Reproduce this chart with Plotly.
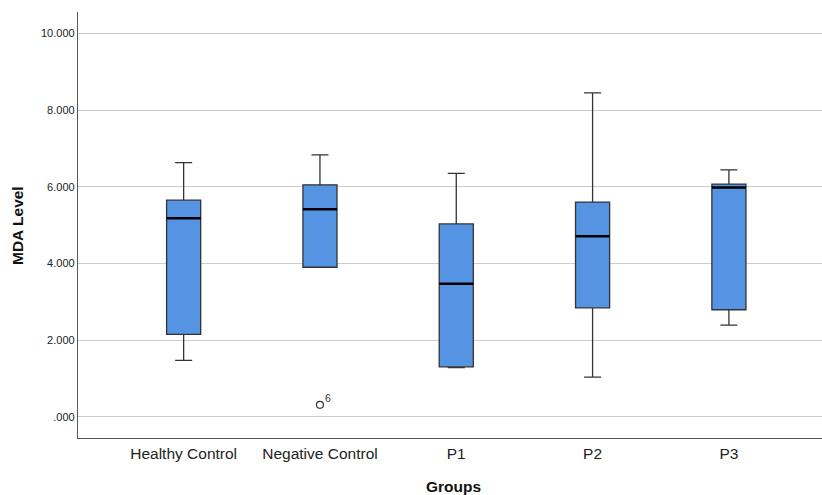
import plotly.graph_objects as go

categories = ["Healthy Control", "Negative Control", "P1", "P2", "P3"]
lower_whisker = [1.47, 3.90, 1.28, 1.03, 2.39]
q1_vals = [2.15, 3.90, 1.30, 2.84, 2.79]
median_vals = [5.18, 5.41, 3.47, 4.71, 5.98]
q3_vals = [5.65, 6.05, 5.03, 5.60, 6.07]
upper_whisker = [6.63, 6.83, 6.35, 8.45, 6.44]

outlier_group = ["Negative Control"]
outlier_vals = [0.31]
outlier_labels = ["6"]

y_tick_vals = [0, 2, 4, 6, 8, 10]
y_tick_text = [".000", "2.000", "4.000", "6.000", "8.000", "10.000"]

xs = list(range(len(categories)))
box_w = 0.25

fig = go.Figure()
fig.add_trace(go.Box(
    x=xs, q1=q1_vals, median=median_vals, q3=q3_vals,
    lowerfence=lower_whisker, upperfence=upper_whisker,
    width=box_w, whiskerwidth=0.5,
    fillcolor="#5494E3", line=dict(color="#333333", width=1.3),
    boxpoints=False, showlegend=False, hoverinfo="skip",
))
# thick median lines
for i, m in zip(xs, median_vals):
    fig.add_trace(go.Scatter(
        x=[i - box_w / 2, i + box_w / 2], y=[m, m], mode="lines",
        line=dict(color="#000000", width=2.5), showlegend=False, hoverinfo="skip",
    ))
# outliers
ox = [categories.index(g) for g in outlier_group]
fig.add_trace(go.Scatter(
    x=ox, y=outlier_vals, mode="markers",
    marker=dict(symbol="circle-open", size=7, color="#333333", line=dict(width=1.2)),
    showlegend=False, hoverinfo="skip",
))

annotations = [
    dict(text=lab, x=xv, y=yv, xref="x", yref="y", xshift=8, yshift=7,
         showarrow=False, font=dict(size=10.5, color="#333333"))
    for xv, yv, lab in zip(ox, outlier_vals, outlier_labels)
]
annotations += [
    dict(text="<b>Groups</b>", xref="paper", yref="paper", x=0.505, y=-0.114,
         xanchor="center", yanchor="middle", showarrow=False,
         font=dict(size=15.5, color="#111111")),
    dict(text="<b>MDA Level</b>", xref="paper", yref="paper", x=-0.082, y=0.5,
         xanchor="center", yanchor="middle", textangle=-90, showarrow=False,
         font=dict(size=15.5, color="#111111")),
]

fig.update_layout(
    width=822, height=495,
    margin=dict(l=78, r=0, t=12, b=57),
    paper_bgcolor="white", plot_bgcolor="white",
    font=dict(family="Arial, Liberation Sans", color="#222222"),
    xaxis=dict(
        range=[-0.775, 4.683], tickvals=xs, ticktext=categories,
        showgrid=False, zeroline=False, showline=True, linecolor="#555555", linewidth=1.3,
        ticks="", tickfont=dict(size=15.5, color="#222222"), automargin=False,
        ticklabelstandoff=1,
    ),
    yaxis=dict(
        range=[-0.556, 10.56], tickvals=y_tick_vals, ticktext=y_tick_text,
        showgrid=True, gridcolor="#CCCCCC", gridwidth=1.3, zeroline=False,
        showline=True, linecolor="#555555", linewidth=1.3, ticks="",
        tickfont=dict(size=11, color="#222222"), automargin=False,
    ),
    annotations=annotations,
)

fig.write_html(
    "out.html",
    config={"displayModeBar": False},
    post_script=(
        "document.body.style.margin='0';document.body.style.overflow='hidden';"
        "document.documentElement.style.overflow='hidden';"
    ),
)
